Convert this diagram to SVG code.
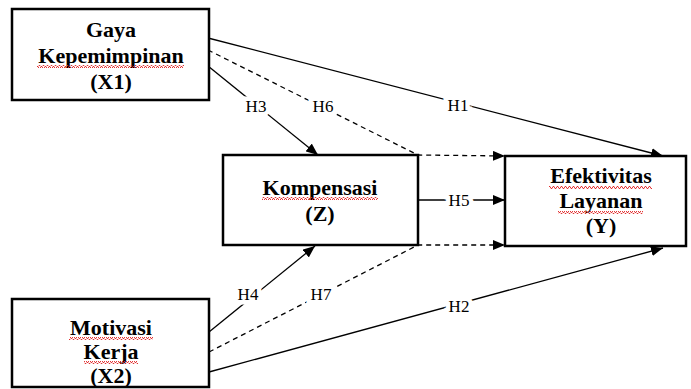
<svg xmlns="http://www.w3.org/2000/svg" width="691" height="389" viewBox="0 0 691 389">
<style>
.box{fill:#fff;stroke:#000;stroke-width:2.5}
.ln{stroke:#000;stroke-width:1.3;fill:none}
.ds{stroke-dasharray:5 4}
.t{font-family:"Liberation Serif","Times New Roman",serif;font-weight:bold;font-size:22px;text-anchor:middle;fill:#000}
.lb{font-family:"Liberation Serif","Times New Roman",serif;font-size:17px;text-anchor:middle;dominant-baseline:central;fill:#000;stroke:#fff;stroke-width:9;paint-order:stroke}
</style>
<defs>
<marker id="ah" viewBox="0 0 12 10" refX="12" refY="5" markerWidth="12" markerHeight="10" markerUnits="userSpaceOnUse" orient="auto">
<path d="M0,0 L12,5 L0,10 Z" fill="#000"/>
</marker>
<pattern id="wv" width="4" height="3" patternUnits="userSpaceOnUse">
<path d="M0,2.5 L1,0.5 L2,0.5 L3,2.5 L4,2.5" fill="none" stroke="#e02020" stroke-width="0.9"/>
</pattern>
</defs>
<g id="connectors">
<line class="ln" x1="208" y1="38" x2="663" y2="156" marker-end="url(#ah)"/>
<polyline class="ln ds" points="208,50 418,155 505,156" marker-end="url(#ah)"/>
<line class="ln" x1="208" y1="66" x2="318" y2="155" marker-end="url(#ah)"/>
<line class="ln" x1="418" y1="200" x2="505" y2="200" marker-end="url(#ah)"/>
<polyline class="ln ds" points="209,352 418,245 505,245" marker-end="url(#ah)"/>
<line class="ln" x1="209" y1="332" x2="315" y2="246" marker-end="url(#ah)"/>
<line class="ln" x1="209" y1="372" x2="663" y2="248" marker-end="url(#ah)"/>
<text class="lb" x="458" y="105">H1</text>
<text class="lb" x="323" y="106">H6</text>
<text class="lb" x="256" y="106">H3</text>
<text class="lb" x="459" y="200">H5</text>
<text class="lb" x="248" y="294">H4</text>
<text class="lb" x="321" y="294">H7</text>
<text class="lb" x="459" y="306">H2</text>
</g>
<g id="X1">
<rect class="box" x="12" y="9" width="197" height="91"/>
<text class="t" x="111" y="37">Gaya</text>
<text class="t" x="111" y="63">Kepemimpinan</text>
<rect x="37" y="65" width="147" height="3" fill="url(#wv)"/>
<text class="t" x="111" y="89">(X1)</text>
</g>
<g id="Z">
<rect class="box" x="223" y="155" width="195" height="90"/>
<text class="t" x="320" y="195">Kompensasi</text>
<rect x="262" y="197" width="116" height="3" fill="url(#wv)"/>
<text class="t" x="320" y="221">(Z)</text>
</g>
<g id="Y">
<rect class="box" x="505" y="156" width="181" height="90"/>
<text class="t" x="601" y="183">Efektivitas</text>
<rect x="549" y="186" width="103" height="3" fill="url(#wv)"/>
<text class="t" x="601" y="208">Layanan</text>
<rect x="558" y="211" width="85" height="3" fill="url(#wv)"/>
<text class="t" x="601" y="233">(Y)</text>
</g>
<g id="X2">
<rect class="box" x="12" y="299" width="197" height="88"/>
<text class="t" x="111" y="335">Motivasi</text>
<rect x="69" y="337" width="84" height="3" fill="url(#wv)"/>
<text class="t" x="111" y="359">Kerja</text>
<rect x="84" y="361" width="54" height="3" fill="url(#wv)"/>
<text class="t" x="111" y="383">(X2)</text>
</g>
</svg>
